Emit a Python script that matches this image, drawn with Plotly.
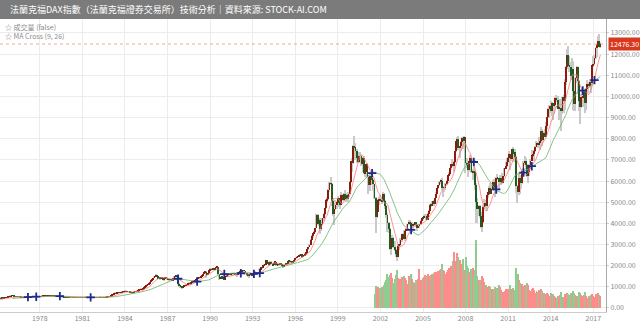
import pandas as pd
import plotly.graph_objects as go

# ---- monthly DAX candles, January 1974 .. July 2017 ----
first_month = "1974-01-01"

close = [
    430, 440, 420, 415, 395, 385, 380, 375, 365, 372, 385, 402,
    430, 455, 470, 465, 480, 470, 490, 500, 495, 520, 540, 563,
    580, 575, 560, 555, 540, 530, 525, 520, 505, 500, 505, 509,
    515, 520, 525, 530, 525, 520, 535, 545, 550, 555, 545, 549,
    555, 560, 565, 575, 585, 580, 585, 595, 600, 590, 570, 575,
    570, 555, 555, 545, 535, 525, 520, 520, 515, 500, 495, 498,
    505, 500, 480, 480, 485, 490, 500, 505, 495, 490, 485, 481,
    485, 490, 505, 515, 510, 505, 510, 500, 490, 492, 495, 490,
    495, 505, 510, 515, 505, 495, 492, 495, 505, 520, 535, 553,
    600, 620, 650, 690, 700, 710, 730, 740, 720, 740, 760, 774,
    800, 780, 790, 790, 740, 720, 710, 750, 775, 795, 800, 821,
    860, 880, 890, 920, 980, 1000, 1050, 1100, 1170, 1230, 1300, 1366,
    1420, 1510, 1560, 1500, 1410, 1440, 1380, 1420, 1340, 1380, 1420, 1432,
    1340, 1330, 1350, 1330, 1320, 1400, 1500, 1540, 1480, 1150, 1040, 1000,
    960, 1030, 1050, 1080, 1100, 1160, 1180, 1140, 1210, 1270, 1260, 1328,
    1370, 1390, 1420, 1460, 1500, 1550, 1620, 1660, 1720, 1570, 1640, 1790,
    1840, 1800, 1880, 1840, 1900, 1920, 1950, 1600, 1390, 1480, 1430, 1398,
    1340, 1510, 1570, 1590, 1650, 1590, 1630, 1650, 1620, 1580, 1560, 1578,
    1700, 1750, 1720, 1750, 1790, 1760, 1650, 1560, 1520, 1560, 1600, 1545,
    1590, 1680, 1700, 1630, 1650, 1690, 1800, 1930, 1890, 2030, 2040, 2267,
    2170, 2090, 2060, 2180, 2100, 2030, 2150, 2180, 2010, 2060, 2040, 2107,
    2040, 2010, 1960, 2040, 2120, 2080, 2230, 2220, 2200, 2150, 2210, 2254,
    2370, 2400, 2450, 2480, 2500, 2550, 2430, 2490, 2560, 2610, 2800, 2889,
    3000, 3230, 3420, 3540, 3580, 3780, 4390, 3960, 4170, 3750, 3980, 4250,
    4440, 4710, 5090, 5150, 5580, 5900, 5880, 5050, 4450, 4670, 4880, 5002,
    5180, 4950, 4880, 5330, 5100, 5380, 5170, 5320, 5150, 5400, 5950, 6958,
    6830, 7640, 7600, 7410, 7110, 6900, 7190, 7190, 6800, 7080, 6370, 6434,
    6800, 6210, 5830, 6260, 6120, 6060, 5860, 5190, 4310, 4560, 5100, 5160,
    5100, 5040, 5400, 5040, 4820, 4380, 4000, 3710, 2770, 3150, 3320, 2893,
    2750, 2550, 2420, 2940, 2980, 3220, 3490, 3480, 3260, 3650, 3750, 3965,
    4060, 4020, 3860, 3990, 3920, 4050, 3900, 3790, 3890, 3960, 4130, 4256,
    4250, 4350, 4350, 4180, 4460, 4590, 4890, 4830, 5040, 4930, 5190, 5408,
    5670, 5800, 5970, 6010, 5690, 5680, 5680, 5860, 6000, 6270, 6310, 6597,
    6790, 6720, 6920, 7410, 7880, 8010, 7580, 7640, 7860, 8020, 7870, 8067,
    6850, 6750, 6530, 6950, 7100, 6420, 6480, 6420, 5830, 4990, 4670, 4810,
    4340, 3840, 4080, 4770, 4940, 4810, 5330, 5460, 5680, 5410, 5630, 5957,
    5610, 5600, 6150, 6140, 5960, 5970, 6150, 5930, 6230, 6600, 6690, 6914,
    7080, 7270, 7040, 7510, 7290, 7380, 7160, 5780, 5500, 6140, 6090, 5898,
    6460, 6860, 6950, 6760, 6260, 6420, 6770, 6970, 7220, 7260, 7410, 7612,
    7780, 7740, 7800, 7910, 8350, 7960, 8280, 8100, 8590, 9030, 9410, 9552,
    9310, 9690, 9560, 9600, 9940, 9830, 9410, 9470, 9470, 9330, 9980, 9806,
    10690, 11400, 11970, 11450, 11410, 10945, 11310, 10260, 9660, 10850, 11380, 10743,
    9800, 9500, 9970, 10040, 10260, 9680, 10340, 10590, 10510, 10670, 10640, 11481,
    11540, 11830, 12310, 12438, 12615, 12325, 12476.3,
]

open_ = [
    396, 430, 440, 420, 415, 395, 385, 380, 375, 365, 372, 385,
    402, 430, 455, 470, 465, 480, 470, 490, 500, 495, 520, 540,
    563, 580, 575, 560, 555, 540, 530, 525, 520, 505, 500, 505,
    509, 515, 520, 525, 530, 525, 520, 535, 545, 550, 555, 545,
    549, 555, 560, 565, 575, 585, 580, 585, 595, 600, 590, 570,
    575, 570, 555, 555, 545, 535, 525, 520, 520, 515, 500, 495,
    498, 505, 500, 480, 480, 485, 490, 500, 505, 495, 490, 485,
    481, 485, 490, 505, 515, 510, 505, 510, 500, 490, 492, 495,
    490, 495, 505, 510, 515, 505, 495, 492, 495, 505, 520, 535,
    553, 600, 620, 650, 690, 700, 710, 730, 740, 720, 740, 760,
    774, 800, 780, 790, 790, 740, 720, 710, 750, 775, 795, 800,
    821, 860, 880, 890, 920, 980, 1000, 1050, 1100, 1170, 1230, 1300,
    1366, 1420, 1510, 1560, 1500, 1410, 1440, 1380, 1420, 1340, 1380, 1420,
    1432, 1340, 1330, 1350, 1330, 1320, 1400, 1500, 1540, 1480, 1150, 1040,
    1000, 960, 1030, 1050, 1080, 1100, 1160, 1180, 1140, 1210, 1270, 1260,
    1328, 1370, 1390, 1420, 1460, 1500, 1550, 1620, 1660, 1720, 1570, 1640,
    1790, 1840, 1800, 1880, 1840, 1900, 1920, 1950, 1600, 1390, 1480, 1430,
    1398, 1340, 1510, 1570, 1590, 1650, 1590, 1630, 1650, 1620, 1580, 1560,
    1578, 1700, 1750, 1720, 1750, 1790, 1760, 1650, 1560, 1520, 1560, 1600,
    1545, 1590, 1680, 1700, 1630, 1650, 1690, 1800, 1930, 1890, 2030, 2040,
    2267, 2170, 2090, 2060, 2180, 2100, 2030, 2150, 2180, 2010, 2060, 2040,
    2107, 2040, 2010, 1960, 2040, 2120, 2080, 2230, 2220, 2200, 2150, 2210,
    2254, 2370, 2400, 2450, 2480, 2500, 2550, 2430, 2490, 2560, 2610, 2800,
    2889, 3000, 3230, 3420, 3540, 3580, 3780, 4390, 3960, 4170, 3750, 3980,
    4250, 4440, 4710, 5090, 5150, 5580, 5900, 5880, 5050, 4450, 4670, 4880,
    5002, 5180, 4950, 4880, 5330, 5100, 5380, 5170, 5320, 5150, 5400, 5950,
    6958, 6830, 7640, 7600, 7410, 7110, 6900, 7190, 7190, 6800, 7080, 6370,
    6434, 6800, 6210, 5830, 6260, 6120, 6060, 5860, 5190, 4310, 4560, 5100,
    5160, 5100, 5040, 5400, 5040, 4820, 4380, 4000, 3710, 2770, 3150, 3320,
    2893, 2750, 2550, 2420, 2940, 2980, 3220, 3490, 3480, 3260, 3650, 3750,
    3965, 4060, 4020, 3860, 3990, 3920, 4050, 3900, 3790, 3890, 3960, 4130,
    4256, 4250, 4350, 4350, 4180, 4460, 4590, 4890, 4830, 5040, 4930, 5190,
    5408, 5670, 5800, 5970, 6010, 5690, 5680, 5680, 5860, 6000, 6270, 6310,
    6597, 6790, 6720, 6920, 7410, 7880, 8010, 7580, 7640, 7860, 8020, 7870,
    8067, 6850, 6750, 6530, 6950, 7100, 6420, 6480, 6420, 5830, 4990, 4670,
    4810, 4340, 3840, 4080, 4770, 4940, 4810, 5330, 5460, 5680, 5410, 5630,
    5957, 5610, 5600, 6150, 6140, 5960, 5970, 6150, 5930, 6230, 6600, 6690,
    6914, 7080, 7270, 7040, 7510, 7290, 7380, 7160, 5780, 5500, 6140, 6090,
    5898, 6460, 6860, 6950, 6760, 6260, 6420, 6770, 6970, 7220, 7260, 7410,
    7612, 7780, 7740, 7800, 7910, 8350, 7960, 8280, 8100, 8590, 9030, 9410,
    9552, 9310, 9690, 9560, 9600, 9940, 9830, 9410, 9470, 9470, 9330, 9980,
    9806, 10690, 11400, 11970, 11450, 11410, 10945, 11310, 10260, 9660, 10850, 11380,
    10743, 9800, 9500, 9970, 10040, 10260, 9680, 10340, 10590, 10510, 10670, 10640,
    11481, 11540, 11830, 12310, 12438, 12615, 12325,
]

high = [
    435, 448, 445, 428, 420, 400, 392, 386, 380, 378, 390, 405,
    434, 460, 476, 478, 486, 485, 495, 506, 508, 524, 545, 568,
    590, 588, 580, 566, 560, 546, 536, 530, 524, 510, 510, 514,
    520, 525, 530, 535, 536, 530, 540, 550, 556, 562, 560, 554,
    560, 566, 570, 580, 590, 592, 590, 600, 606, 605, 594, 580,
    582, 574, 562, 560, 550, 540, 530, 526, 525, 518, 505, 503,
    510, 512, 504, 486, 490, 495, 505, 510, 508, 500, 495, 490,
    490, 495, 510, 520, 518, 512, 514, 512, 502, 497, 499, 497,
    500, 510, 515, 520, 518, 507, 499, 499, 510, 525, 540, 558,
    606, 628, 656, 696, 710, 720, 738, 750, 748, 746, 766, 780,
    812, 806, 798, 800, 795, 748, 728, 756, 782, 802, 810, 828,
    868, 890, 905, 928, 988, 1015, 1060, 1110, 1180, 1245, 1315, 1380,
    1440, 1525, 1590, 1570, 1510, 1455, 1450, 1435, 1430, 1395, 1435, 1450,
    1440, 1360, 1370, 1365, 1345, 1410, 1515, 1580, 1560, 1510, 1170, 1060,
    1010, 1040, 1070, 1090, 1115, 1170, 1200, 1190, 1220, 1285, 1290, 1335,
    1390, 1410, 1430, 1470, 1515, 1560, 1630, 1680, 1730, 1725, 1660, 1800,
    1870, 1860, 1900, 1895, 1910, 1940, 1970, 1960, 1620, 1510, 1500, 1450,
    1420, 1520, 1590, 1610, 1660, 1660, 1640, 1665, 1660, 1630, 1600, 1590,
    1710, 1765, 1760, 1770, 1810, 1800, 1770, 1660, 1580, 1580, 1610, 1610,
    1600, 1690, 1720, 1710, 1670, 1700, 1810, 1945, 1950, 2040, 2060, 2270,
    2280, 2190, 2120, 2200, 2200, 2120, 2160, 2200, 2190, 2090, 2080, 2120,
    2120, 2060, 2030, 2050, 2130, 2140, 2240, 2260, 2250, 2210, 2220, 2270,
    2380, 2430, 2470, 2500, 2530, 2570, 2560, 2510, 2580, 2630, 2810, 2900,
    3040, 3250, 3460, 3560, 3640, 3800, 4440, 4420, 4200, 4250, 4020, 4270,
    4480, 4740, 5130, 5230, 5620, 5960, 6170, 5920, 5200, 4750, 5100, 5060,
    5290, 5220, 5080, 5460, 5390, 5420, 5580, 5400, 5450, 5480, 6000, 6960,
    7100, 7700, 8136, 7800, 7500, 7260, 7370, 7370, 7300, 7130, 7200, 6660,
    6810, 6860, 6280, 6290, 6340, 6190, 6100, 5880, 5230, 4780, 5150, 5250,
    5350, 5190, 5460, 5420, 5120, 4850, 4480, 4050, 3780, 3230, 3430, 3350,
    3160, 2800, 2740, 2960, 3040, 3300, 3500, 3560, 3680, 3660, 3780, 3990,
    4160, 4160, 4070, 4060, 4010, 4080, 4070, 3920, 3950, 3990, 4160, 4270,
    4300, 4390, 4420, 4440, 4480, 4640, 4900, 4960, 5060, 5100, 5200, 5460,
    5690, 5830, 6000, 6100, 6160, 5760, 5780, 5900, 6050, 6290, 6430, 6620,
    6800, 7040, 6940, 7440, 7900, 8070, 8150, 7670, 7900, 8070, 8060, 8120,
    8100, 7110, 6830, 6970, 7230, 7110, 6550, 6650, 6500, 5900, 5210, 4860,
    4850, 4560, 4140, 4870, 5130, 5110, 5340, 5500, 5760, 5890, 5820, 6030,
    6090, 5680, 6170, 6340, 6160, 6300, 6200, 6390, 6350, 6630, 6900, 7080,
    7160, 7440, 7300, 7530, 7600, 7420, 7530, 7190, 5800, 6430, 6300, 6200,
    6550, 6930, 7190, 7090, 6820, 6450, 6790, 7050, 7480, 7430, 7450, 7680,
    7870, 7850, 8060, 7930, 8560, 8440, 8380, 8460, 8770, 9050, 9430, 9610,
    9790, 9730, 9670, 9650, 9960, 10050, 10030, 9520, 9890, 9480, 9990, 10090,
    10810, 11420, 12220, 12390, 11920, 11640, 11800, 11670, 10540, 10940, 11430, 11400,
    10780, 9900, 10100, 10490, 10330, 10360, 10350, 10800, 10680, 10830, 10790, 11490,
    11890, 11960, 12320, 12490, 12840, 12950, 12550,
]

low = [
    390, 425, 415, 408, 390, 378, 372, 366, 355, 352, 368, 380,
    398, 426, 450, 458, 460, 464, 466, 485, 488, 492, 516, 536,
    558, 568, 555, 548, 535, 524, 518, 512, 500, 492, 495, 500,
    505, 510, 515, 520, 520, 514, 516, 530, 540, 545, 540, 540,
    544, 550, 555, 560, 570, 575, 574, 580, 590, 582, 565, 564,
    565, 550, 548, 540, 530, 520, 514, 512, 508, 494, 488, 490,
    494, 495, 474, 472, 475, 480, 486, 495, 490, 485, 480, 476,
    476, 480, 486, 500, 505, 500, 502, 496, 484, 486, 488, 486,
    485, 490, 500, 505, 500, 490, 487, 488, 490, 500, 515, 530,
    550, 595, 612, 645, 680, 690, 702, 722, 712, 710, 732, 752,
    770, 772, 770, 778, 735, 712, 700, 705, 745, 768, 788, 795,
    815, 850, 870, 880, 915, 970, 990, 1040, 1090, 1160, 1220, 1290,
    1340, 1410, 1500, 1480, 1390, 1395, 1360, 1370, 1320, 1320, 1370, 1400,
    1310, 1300, 1310, 1310, 1300, 1315, 1390, 1480, 1460, 1080, 1010, 960,
    930, 950, 1020, 1030, 1060, 1090, 1150, 1120, 1130, 1200, 1240, 1250,
    1310, 1350, 1370, 1410, 1450, 1490, 1540, 1610, 1640, 1440, 1540, 1630,
    1770, 1740, 1790, 1820, 1830, 1880, 1900, 1560, 1330, 1360, 1400, 1380,
    1300, 1330, 1490, 1550, 1580, 1570, 1570, 1520, 1600, 1570, 1540, 1500,
    1570, 1690, 1700, 1710, 1740, 1740, 1630, 1530, 1490, 1420, 1540, 1530,
    1520, 1580, 1660, 1610, 1610, 1640, 1680, 1790, 1860, 1880, 1990, 2030,
    2140, 2070, 2030, 2050, 2080, 1990, 2020, 2130, 1990, 1990, 2010, 2020,
    2010, 1990, 1910, 1950, 2030, 2050, 2070, 2190, 2170, 2120, 2130, 2190,
    2240, 2350, 2380, 2430, 2460, 2480, 2380, 2410, 2470, 2540, 2600, 2760,
    2870, 2980, 3200, 3300, 3480, 3560, 3760, 3900, 3880, 3500, 3650, 3920,
    4090, 4400, 4700, 4950, 5120, 5500, 5800, 4800, 4350, 3900, 4650, 4700,
    4950, 4780, 4690, 4870, 5040, 5080, 5140, 5000, 5040, 4990, 5400, 5930,
    6430, 6800, 7160, 7000, 6830, 6850, 6850, 7020, 6690, 6430, 6310, 6190,
    6210, 6130, 5380, 5530, 6010, 5830, 5550, 5130, 3540, 4240, 4550, 4870,
    4990, 4900, 5030, 4990, 4690, 4270, 3600, 3550, 2760, 2520, 2970, 2850,
    2680, 2400, 2200, 2400, 2750, 2950, 3140, 3270, 3240, 3180, 3620, 3670,
    3930, 3970, 3690, 3850, 3740, 3900, 3820, 3620, 3780, 3800, 3940, 4120,
    4140, 4240, 4300, 4150, 4150, 4450, 4570, 4780, 4800, 4830, 4920, 5180,
    5400, 5610, 5770, 5880, 5590, 5240, 5500, 5600, 5830, 5990, 6230, 6290,
    6540, 6660, 6440, 6870, 7380, 7700, 7480, 7090, 7400, 7760, 7500, 7730,
    6380, 6610, 6170, 6440, 6900, 6390, 6030, 6280, 5600, 4010, 4020, 4370,
    4230, 3800, 3590, 4010, 4670, 4660, 4570, 5200, 5350, 5380, 5390, 5590,
    5550, 5250, 5590, 6060, 5610, 5880, 5810, 5880, 5910, 6180, 6560, 6680,
    6840, 7060, 6510, 6970, 7050, 6920, 7060, 5450, 4960, 5340, 5370, 5640,
    5850, 6440, 6760, 6500, 6210, 5910, 6220, 6750, 6950, 7110, 6950, 7380,
    7610, 7550, 7650, 7460, 7880, 7650, 7840, 8070, 8080, 8460, 8990, 9000,
    9220, 9090, 8870, 9170, 9460, 9760, 9400, 8900, 9390, 8350, 9170, 9220,
    9380, 10550, 11300, 11420, 11150, 10760, 10760, 9340, 9330, 9330, 10650, 10120,
    9310, 8700, 9470, 9480, 9800, 9220, 9370, 10260, 10180, 10420, 10170, 10610,
    11410, 11470, 11760, 11860, 12410, 12320, 12300,
]

# monthly turnover, drawn on the price scale, August 2001 .. July 2017
volume_first_month = "2001-08-01"
volume = [
    650, 1050, 900, 1000, 800,
    950, 1000, 900, 1100, 1250, 1300, 1600, 1450, 1550, 1650, 1400, 1200,
    1350, 1550, 1800, 1400, 1300, 1350, 1450, 1250, 1500, 1400, 1300, 1150,
    1500, 1350, 1600, 1350, 1250, 1200, 1300, 1250, 1350, 1850, 1300, 1200,
    1400, 1450, 1550, 1500, 1600, 1500, 1400, 1550, 1600, 1650, 1700, 1500,
    1700, 1750, 1800, 1850, 2100, 1800, 1750, 1600, 1700, 1800, 1900, 1650,
    2000, 2200, 2650, 2100, 2200, 2600, 2400, 2250, 2100, 2000, 2300, 1800,
    2400, 2000, 1900, 1600, 1700, 1850, 1900, 1500, 1800, 3200, 1500, 1300,
    1200, 1300, 1500, 1400, 1250, 1100, 950, 1000, 1050, 1000, 900, 800,
    900, 1000, 850, 950, 1100, 1000, 850, 700, 750, 800, 900, 750,
    900, 850, 1100, 900, 950, 850, 800, 1900, 1600, 1300, 1200, 1000,
    1150, 1050, 1100, 1000, 1200, 1100, 850, 800, 900, 950, 850, 700,
    800, 750, 850, 750, 900, 800, 700, 650, 650, 700, 650, 550,
    700, 600, 650, 550, 500, 450, 550, 500, 600, 750, 500, 500,
    650, 600, 700, 650, 600, 700, 650, 800, 700, 600, 550, 550,
    750, 700, 600, 550, 600, 750, 550, 450, 550, 500, 600, 650,
    550, 500, 650, 500, 700, 600, 550,
]

tick_years = list(range(1978, 2018, 3))
price_ticks = list(range(0, 14000, 1000))
last_price = 12476.30
fast_period, slow_period = 9, 26

title_text = "法蘭克福DAX指數（法蘭克福證券交易所）技術分析｜資料來源: STOCK-AI.COM"
legend_lines = ["☆ 成交量 (false)", "☆ MA Cross (9, 26)"]

# ---- derived frames ----
months = pd.date_range(first_month, periods=len(close), freq="MS")
df = pd.DataFrame({"open": open_, "high": high, "low": low, "close": close}, index=months)
df["ma_fast"] = df["close"].rolling(fast_period).mean()
df["ma_slow"] = df["close"].rolling(slow_period).mean()
rising = df["close"] >= df["open"]

vol_months = pd.date_range(volume_first_month, periods=len(volume), freq="MS")
vol = pd.Series(volume, index=vol_months)
vol_up = rising.reindex(vol_months)

# crossings of the two moving averages
spread = (df["ma_fast"] - df["ma_slow"]).dropna()
sign = spread > 0
cross_idx = sign.index[1:][sign.values[1:] != sign.values[:-1]]
cross_y = (df.loc[cross_idx, "ma_fast"] + df.loc[cross_idx, "ma_slow"]) / 2

MONTH_MS = 30.44 * 24 * 3600 * 1000

fig = go.Figure()

# wicks
fig.add_trace(go.Bar(
    x=df.index, y=df["high"] - df["low"], base=df["low"],
    width=MONTH_MS * 1.0, marker=dict(color="#c9c9c9", line=dict(width=0)),
    hoverinfo="skip",
))
# bodies
for mask, color in ((rising, "#8c1b0c"), (~rising, "#1f5c1f")):
    sub = df[mask]
    fig.add_trace(go.Bar(
        x=sub.index, y=(sub["close"] - sub["open"]).abs(),
        base=sub[["open", "close"]].min(axis=1),
        width=MONTH_MS * 0.7, marker=dict(color=color, line=dict(width=0)),
    ))

# volume
fig.add_trace(go.Bar(
    x=vol.index, y=vol.values, width=MONTH_MS * 0.8,
    marker=dict(color=["#ff8c8c" if u else "#8fcc8f" for u in vol_up], line=dict(width=0)),
))

# moving averages
fig.add_trace(go.Scatter(x=df.index, y=df["ma_fast"], mode="lines",
                         line=dict(color="#ff7878", width=0.8)))
fig.add_trace(go.Scatter(x=df.index, y=df["ma_slow"], mode="lines",
                         line=dict(color="#6ab46a", width=0.8)))

# cross markers
fig.add_trace(go.Scatter(
    x=cross_idx, y=cross_y, mode="markers",
    marker=dict(symbol="cross-thin", size=6, line=dict(color="#1c2a8e", width=1.8)),
))

fig.update_layout(
    width=640, height=323,
    margin=dict(l=0, r=31, t=19, b=10),
    paper_bgcolor="white", plot_bgcolor="white",
    barmode="overlay", bargap=0, showlegend=False,
    font=dict(family="Noto Sans CJK TC, Noto Sans, sans-serif"),
)
fig.update_xaxes(
    type="date", range=["1975-03-13", "2017-11-24"],
    tickvals=[f"{y}-01-01" for y in tick_years], ticktext=[str(y) for y in tick_years],
    showgrid=True, gridcolor="#ececec", gridwidth=1,
    showline=True, linecolor="#cccccc", ticks="",
    tickfont=dict(size=7, color="#888888"),
)
fig.update_yaxes(
    side="right", range=[-190, 13660],
    tickvals=price_ticks, ticktext=[f"{v:.2f}" for v in price_ticks],
    showgrid=True, gridcolor="#ececec", gridwidth=1, zeroline=False,
    showline=True, linecolor="#aaaaaa", ticks="outside", ticklen=2, tickcolor="#cccccc",
    tickfont=dict(size=7, color="#888888"),
)

# header bar
fig.add_shape(type="rect", xref="paper", yref="paper", x0=-0.01, x1=1.06,
              y0=1.0, y1=1.08, fillcolor="#7b7b7b", line=dict(width=0), layer="above")
fig.add_annotation(xref="paper", yref="paper", x=8 / 609, y=1 + 9.5 / 294,
                   xanchor="left", yanchor="middle", showarrow=False,
                   text=title_text, font=dict(size=9, color="white"))

# indicator captions
for i, txt in enumerate(legend_lines):
    fig.add_annotation(xref="paper", yref="paper", x=3 / 609, y=(313 - 27 - 9.5 * i) / 294,
                       xanchor="left", yanchor="middle", showarrow=False,
                       text=txt, font=dict(size=7, color="#8a8a8a"))

# last price line and tag
fig.add_shape(type="line", xref="paper", yref="y", x0=0, x1=1, y0=last_price, y1=last_price,
              line=dict(color="rgba(235,90,70,0.55)", width=1, dash="dot"))
fig.add_annotation(xref="paper", yref="y", x=1, y=last_price, xanchor="left", yanchor="middle",
                   xshift=2, showarrow=False, text=f"{last_price:.2f}",
                   bgcolor="#d8391c", borderpad=1, font=dict(size=7, color="white"))

fig.write_html("out.html")
